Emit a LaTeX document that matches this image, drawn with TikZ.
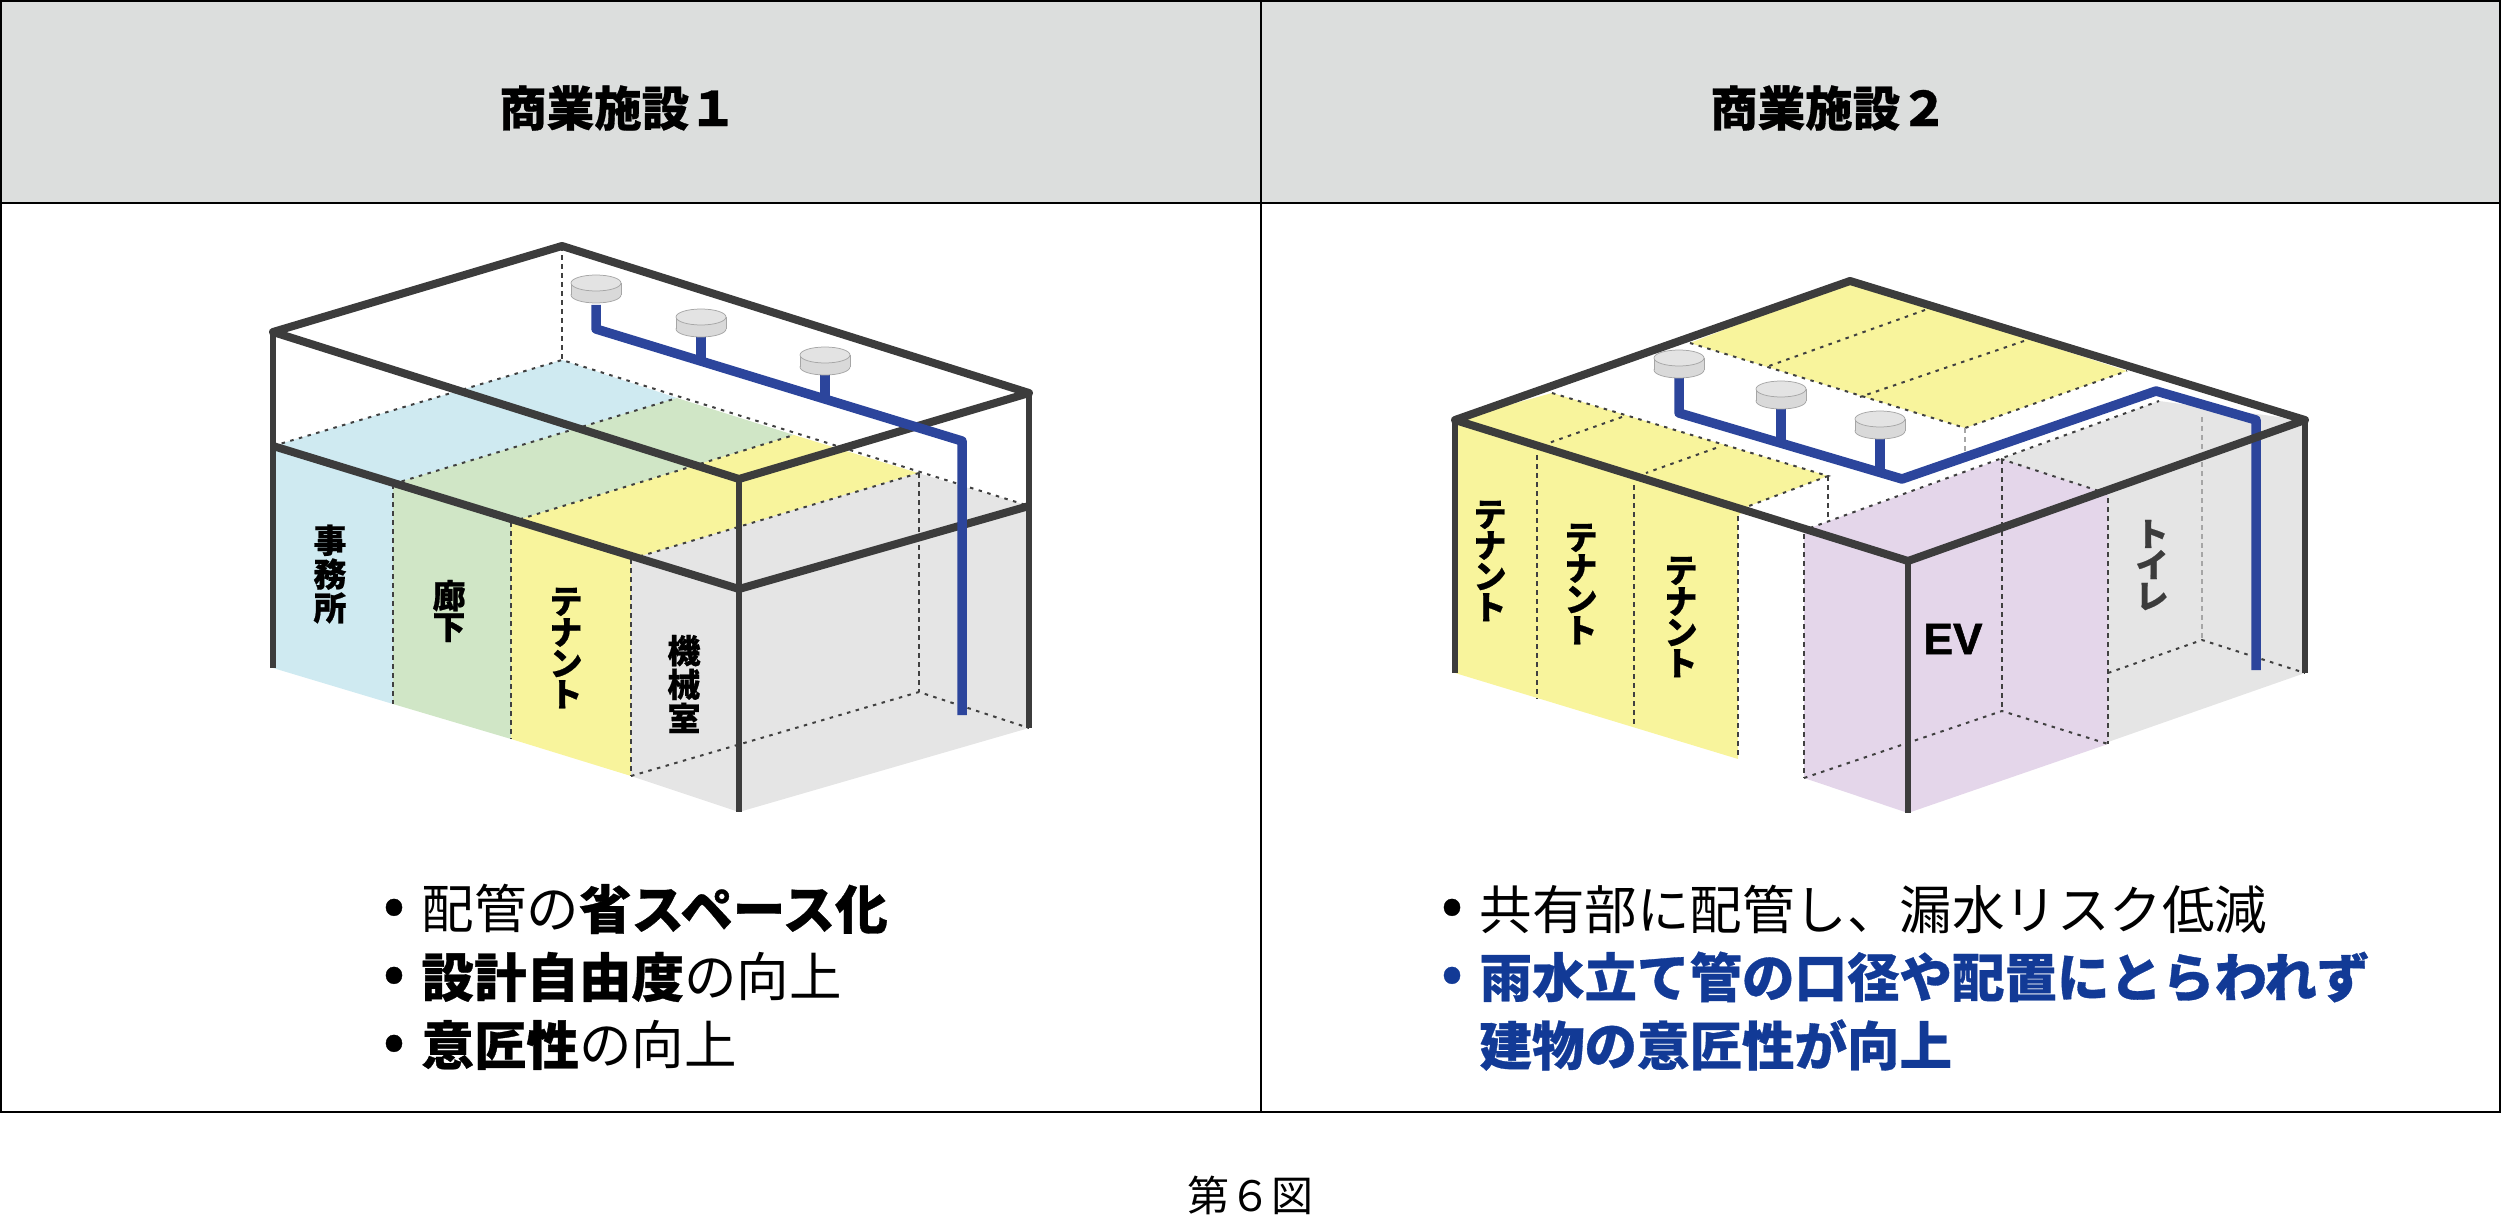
\documentclass[tikz,border=0pt]{standalone}
\usepackage{fontspec}
\usepackage{xcolor}
\usetikzlibrary{positioning,calc}
\setmainfont{Noto Sans CJK JP}[BoldFont=* Black,BoldFeatures={FakeBold=0.6}]
\newfontfamily\latinfont{Liberation Sans}[BoldFeatures={FakeBold=1.2}]
\XeTeXlinebreaklocale "ja"
\XeTeXlinebreakskip=0pt plus 1pt
\definecolor{headgray}{HTML}{DCDEDD}
\definecolor{wallblue}{HTML}{CFEAF1}
\definecolor{wallgreen}{HTML}{D0E6C6}
\definecolor{wallyellow}{HTML}{F8F49C}
\definecolor{wallgray}{HTML}{E5E5E5}
\definecolor{wallpurple}{HTML}{E4D6EA}
\definecolor{framegray}{HTML}{3C3C3C}
\definecolor{pipeblue}{HTML}{2C459C}
\definecolor{textblue}{HTML}{123A96}

\begin{document}
\begin{tikzpicture}[
x=0.4pt,y=-0.4pt,
frame/.style={
framegray,
line width=3.2pt,
line join=round
},
post/.style={
framegray,
line width=2.6pt
},
pipe/.style={
pipeblue,
line width=3.8pt,
line join=round
},
hidden/.style={
black!75,
line width=0.55pt,
dash pattern=on 2pt off 1.6pt
},
floorline/.style={
black!75,
line width=0.8pt,
dash pattern=on 1.4pt off 2.2pt
},
heading/.style={
font=\fontsize{19pt}{22pt}\selectfont\bfseries
},
listtext/.style={
anchor=west,
inner sep=0pt,
font=\fontsize{21pt}{25pt}\selectfont
},
dot/.style={
anchor=center,
inner sep=0pt,
font=\fontsize{21pt}{25pt}\selectfont\bfseries
},
roomlabel/.style={
align=center,
inner sep=0pt,
text width=18pt,
font=\fontsize{13.2pt}{12.4pt}\selectfont\bfseries
},
drain/.pic={
\fill[gray!30,draw=gray!70,line width=0.3pt] (0,6) ellipse [x radius=25, y radius=8];
\fill[gray!30] (-25,-6) rectangle (25,6);
\draw[gray!70,line width=0.3pt] (-25,-6) -- (-25,6) (25,-6) -- (25,6);
\fill[gray!22,draw=gray!70,line width=0.3pt] (0,-6) ellipse [x radius=25, y radius=8];
}
]

\path[use as bounding box] (0,0) rectangle (2501,1218);


% Table

\fill[headgray] (1,1) rectangle (2500,203);
\draw[line width=0.8pt] (1,1) rectangle (2500,1112);
\draw[line width=0.8pt] (1,203) -- (2500,203);
\draw[line width=0.8pt] (1261,1) -- (1261,1112);

\node (headA) [heading] at (618,108) {商業施設１};
\node (headB) [heading] at (1829,108) {商業施設２};


% Building 1

\coordinate (aTop) at (562,246);
\coordinate (aLeft) at (273,332);
\coordinate (aFront) at (739,479);
\coordinate (aRight) at (1029,393);
\coordinate (aMidBack) at (562,360);
\coordinate (aMidLeft) at (273,446);
\coordinate (aMidFront) at (739,589);
\coordinate (aMidRight) at (1029,506);
\coordinate (aLowLeft) at (273,668);
\coordinate (aLowFront) at (739,812);
\coordinate (aLowRight) at (1029,728);

\fill[wallblue] (aMidLeft) -- (aMidBack) -- (677,398) -- (393,484) -- (393,704) -- (aLowLeft) -- cycle;
\fill[wallgreen] (393,484) -- (677,398) -- (794,435) -- (511,522) -- (511,739) -- (393,704) -- cycle;
\fill[wallyellow] (511,522) -- (794,435) -- (918,473) -- (631,559) -- (631,776) -- (511,739) -- cycle;
\fill[wallgray] (631,559) -- (918,473) -- (aMidRight) -- (aLowRight) -- (aLowFront) -- (631,776) -- cycle;

\draw[hidden] (aTop) -- (aMidBack);
\draw[hidden] (393,484) -- (393,704);
\draw[hidden] (511,522) -- (511,739);
\draw[hidden] (631,559) -- (631,776);
\draw[hidden] (919,473) -- (919,692);
\draw[floorline] (aMidLeft) -- (aMidBack) -- (aMidRight);
\draw[floorline] (393,484) -- (677,398);
\draw[floorline] (511,522) -- (794,435);
\draw[floorline] (631,559) -- (919,473);
\draw[floorline] (631,776) -- (919,692) -- (aLowRight);

\draw[frame] (aLeft) -- (aTop) -- (aRight) -- (aFront) -- cycle;
\draw[frame] (aMidLeft) -- (aMidFront) -- (aMidRight);
\draw[post] (aLeft) -- (aLowLeft);
\draw[post] (aFront) -- (aLowFront);
\draw[post] (aRight) -- (aLowRight);

\draw[pipe] (596,305) -- (596,329) -- (962,441) -- (962,715);
\draw[pipe] (701,336) -- (701,360);
\draw[pipe] (825,374) -- (825,398);
\pic (drainA) at (596,289) {drain};
\pic (drainB) at (701,323) {drain};
\pic (drainC) at (825,361) {drain};

\node (officeA) [roomlabel] at (330,574) {事務所};
\node (hallA) [roomlabel] at (449,611) {廊下};
\node (tenantA) [roomlabel] at (566,648) {テナント};
\node (machineA) [roomlabel] at (684,684) {機械室};


% Building 2

\coordinate (bTop) at (1850,281);
\coordinate (bLeft) at (1455,420);
\coordinate (bFront) at (1908,561);
\coordinate (bRight) at (2305,420);
\coordinate (bLowLeft) at (1455,673);
\coordinate (bLowFront) at (1908,813);
\coordinate (bLowRight) at (2305,673);

\fill[wallyellow] (bTop) -- (2127,371) -- (1965,428) -- (1690,343) -- cycle;
\fill[wallyellow] (bLeft) -- (1552,393) -- (1828,476) -- (1749,506) -- (1738,516) -- (1738,759) -- (bLowLeft) -- cycle;
\fill[wallgray] (2001,459) -- (2159,401) -- (2302,420) -- (bLowRight) -- (2108,742) -- (2108,498) -- cycle;
\fill[wallpurple] (1804,534) -- (1810,528) -- (2001,459) -- (2108,494) -- (2108,744) -- (bLowFront) -- (1804,778) -- cycle;

\draw[floorline] (1690,343) -- (1965,428) -- (2127,371);
\draw[floorline] (1925,310) -- (1769,366);
\draw[floorline] (2024,341) -- (1860,397);
\draw[floorline] (1552,393) -- (1828,476) -- (1749,506);
\draw[floorline] (1622,417) -- (1546,444);
\draw[floorline] (1716,448) -- (1646,473);
\draw[floorline] (1810,528) -- (2159,401);
\draw[floorline] (2001,459) -- (2108,494);
\draw[floorline] (1804,778) -- (2002,711) -- (2108,744);
\draw[floorline] (2108,673) -- (2202,640) -- (bLowRight);
\draw[hidden] (1537,455) -- (1537,699);
\draw[hidden] (1634,485) -- (1634,728);
\draw[hidden] (1738,516) -- (1738,759);
\draw[hidden] (1828,476) -- (1828,520);
\draw[hidden] (1804,534) -- (1804,778);
\draw[hidden] (2002,459) -- (2002,711);
\draw[hidden] (2108,498) -- (2108,744);
\draw[hidden,black!35] (2202,417) -- (2202,640);
\draw[hidden,black!35] (1965,428) -- (1965,452);

\draw[pipe] (1679,378) -- (1679,413) -- (1902,479) -- (2156,391) -- (2256,420) -- (2256,670);
\draw[pipe] (1781,409) -- (1781,444);
\draw[pipe] (1880,438) -- (1880,473);
\pic (drainD) at (1679,364) {drain};
\pic (drainE) at (1781,395) {drain};
\pic (drainF) at (1880,425) {drain};

\draw[frame] (bLeft) -- (bTop) -- (bRight) -- (bFront) -- cycle;
\draw[post] (bLeft) -- (bLowLeft);
\draw[post] (bFront) -- (bLowFront);
\draw[post] (bRight) -- (bLowRight);

\node (tenantB) [roomlabel] at (1490,561) {テナント};
\node (tenantC) [roomlabel] at (1581,584) {テナント};
\node (tenantD) [roomlabel] at (1681,617) {テナント};
\node (toilet) [roomlabel,framegray] at (2152,565) {トイレ};
\node (ev) [font=\fontsize{17.7pt}{22pt}\selectfont\latinfont\bfseries,inner sep=0pt] at (1953,639) {EV};


% Points

\node (dotA) [dot] at (394,911) {•};
\node (pointA) [listtext] at (421,909) {配管の\textbf{省スペース化}};
\node (dotB) [dot] at (394,979) {•};
\node (pointB) [listtext] at (421,977) {\textbf{設計自由度}の向上};
\node (dotC) [dot] at (394,1047) {•};
\node (pointC) [listtext] at (421,1045) {\textbf{意匠性}の向上};

\node (dotD) [dot] at (1452,911) {•};
\node (pointD) [listtext] at (1479,909) {共有部に配管し、漏水リスク低減};
\node (dotE) [dot,textblue] at (1452,979) {•};
\node (pointE) [listtext,textblue] at (1479,977) {\textbf{雨水立て管の口径や配置にとらわれず}};
\node (pointF) [listtext,textblue] at (1479,1045) {\textbf{建物の意匠性が向上}};

\node (caption) [font=\fontsize{16.8pt}{20pt}\selectfont] at (1250,1195) {第６図};

\end{tikzpicture}
\end{document}
